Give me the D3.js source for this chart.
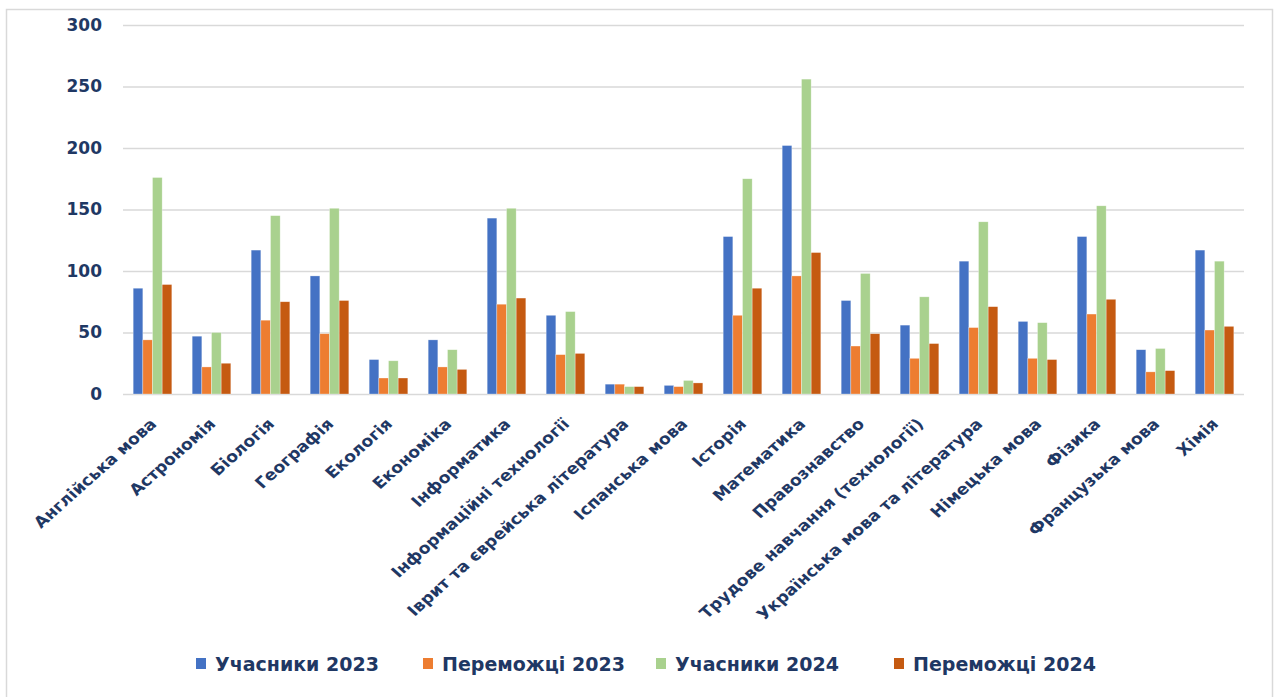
<!DOCTYPE html>
<html><head><meta charset="utf-8">
<script src="https://cdn.jsdelivr.net/npm/d3@7"></script>
<style>body{margin:0;background:#fff;} svg{display:block;}</style>
</head><body>
<svg id="c" width="1278" height="697"></svg>
<script>
const categories = ["Англійська мова","Астрономія","Біологія","Географія","Екологія","Економіка","Інформатика","Інформаційні технології","Іврит та єврейська література","Іспанська мова","Історія","Математика","Правознавство","Трудове навчання (технології)","Українська мова та література","Німецька мова","Фізика","Французька мова","Хімія"];
const seriesNames = ["Учасники 2023","Переможці 2023","Учасники 2024","Переможці 2024"];
const participants2023 = [86,47,117,96,28,44,143,64,8,7,128,202,76,56,108,59,128,36,117];
const winners2023 = [44,22,60,49,13,22,73,32,8,6,64,96,39,29,54,29,65,18,52];
const participants2024 = [176,50,145,151,27,36,151,67,6,11,175,256,98,79,140,58,153,37,108];
const winners2024 = [89,25,75,76,13,20,78,33,6,9,86,115,49,41,71,28,77,19,55];
const yTicks = [0,50,100,150,200,250,300];
const colors = ["#4472C4","#ED7D31","#A9D18E","#C55A11"];

(function(){
const seriesValues = [participants2023, winners2023, participants2024, winners2024];
const svg = d3.select("#c");
const textColor = "#1F3864";
const font = "'DejaVu Sans', Verdana, sans-serif";

svg.append("rect").attr("x",6.5).attr("y",9.5).attr("width",1266).attr("height",700)
  .attr("fill","none").attr("stroke","#D9D9D9").attr("stroke-width",1.5);

const pLeft = 123, pRight = 1244, pTop = 25, pBottom = 394;
const y = d3.scaleLinear().domain([0,300]).range([pBottom, pTop]);
const x0 = d3.scaleBand().domain(categories).range([pLeft,pRight]).paddingInner(0.345).paddingOuter(0.1725);
const x1 = d3.scaleBand().domain(d3.range(4)).range([0, x0.bandwidth()]);

const yAxis = d3.axisLeft(y).tickValues(yTicks).tickSize(-(pRight-pLeft)).tickPadding(21);
const gy = svg.append("g").attr("transform",`translate(${pLeft},0)`).call(yAxis);
gy.select(".domain").remove();
gy.selectAll(".tick line").attr("stroke","#D9D9D9").attr("stroke-width",1.5);
gy.selectAll(".tick text").attr("fill",textColor).style("font-family",font)
  .style("font-weight","bold").style("font-size","17px");

const g = svg.append("g");
categories.forEach((c,i)=>{
  seriesValues.forEach((vals,s)=>{
    g.append("rect")
      .attr("x", x0(c)+x1(s))
      .attr("y", y(vals[i]))
      .attr("width", x1.bandwidth())
      .attr("height", y(0)-y(vals[i]))
      .attr("fill", colors[s])
      .attr("stroke","#ffffff").attr("stroke-opacity",0.5).attr("stroke-width",0.6);
  });
});

const xAxis = d3.axisBottom(x0).tickSize(0).tickPadding(0);
const gx = svg.append("g").attr("transform",`translate(0,${pBottom})`).call(xAxis);
gx.select(".domain").remove();
gx.selectAll(".tick text")
  .attr("fill",textColor)
  .style("font-family",font).style("font-weight","bold").style("font-size","15.5px")
  .attr("text-anchor","end")
  .attr("dy","0")
  .attr("transform","translate(5,31) scale(1.12,1) rotate(-45)");

const legendX = [196, 423, 656, 894];
const lg = svg.append("g");
seriesNames.forEach((n,i)=>{
  lg.append("rect").attr("x",legendX[i]).attr("y",658).attr("width",10).attr("height",11).attr("fill",colors[i]);
  lg.append("text").attr("x",legendX[i]+19).attr("y",671).text(n)
    .attr("fill",textColor).style("font-family",font).style("font-weight","bold").style("font-size","19px");
});
})();
</script>
</body></html>
